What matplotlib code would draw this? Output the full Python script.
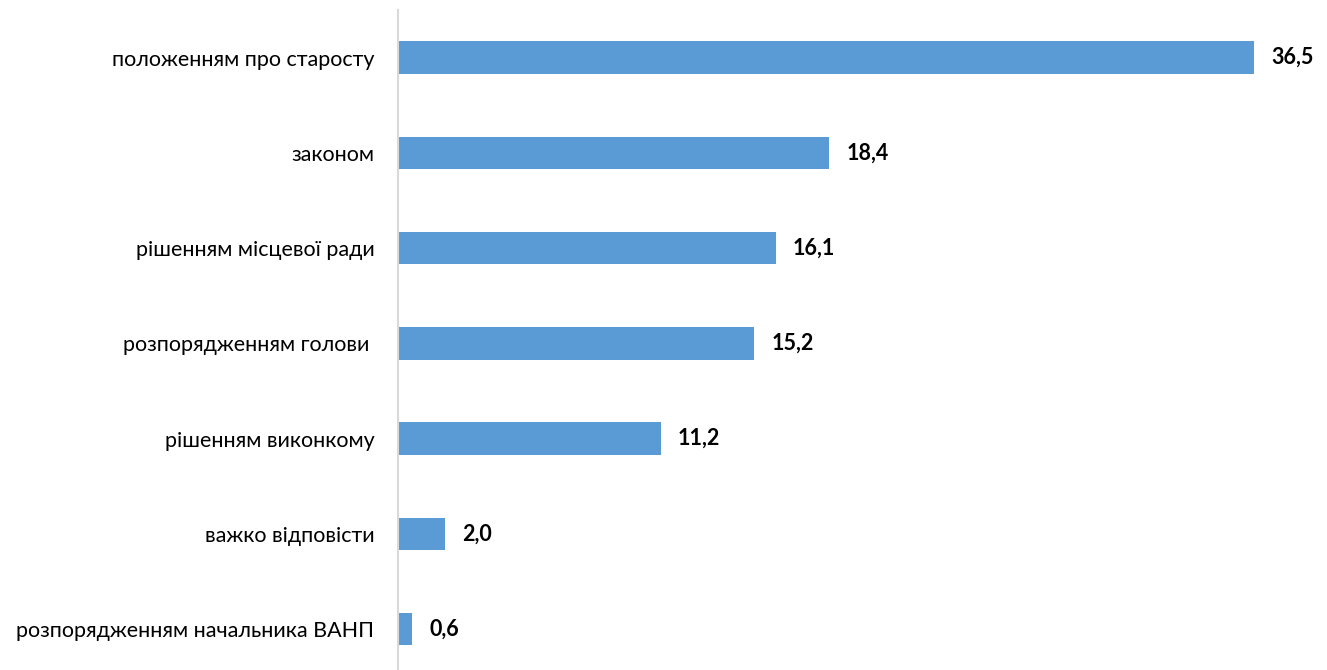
import matplotlib
matplotlib.use("Agg")
import matplotlib.pyplot as plt

categories = [
    "положенням про старосту",
    "законом",
    "рішенням місцевої ради",
    "розпорядженням голови ",
    "рішенням виконкому",
    "важко відповісти",
    "розпорядженням начальника ВАНП",
]
values = [36.5, 18.4, 16.1, 15.2, 11.2, 2.0, 0.6]

plt.rcParams['font.family'] = ['Lato', 'DejaVu Sans']

fig = plt.figure(figsize=(13.27, 6.70), dpi=100)
ax = fig.add_axes([398 / 1327, 0.0, 929 / 1327, 660 / 670])

pos = list(range(len(categories)))
ax.barh(pos, values, height=0.34, color='#5B9BD5')

for p, v in zip(pos, values):
    ax.annotate('{:.1f}'.format(v).replace('.', ','), xy=(v, p), xytext=(17, 0),
                textcoords='offset pixels',
                va='center', ha='left', fontsize=15.5, fontweight='bold', color='black')

ax.set_xlim(0, 929 / 23.45)
ax.set_ylim(6.43, -0.5)
ax.set_yticks(pos)
ax.set_yticklabels(categories, fontsize=15.5)
ax.tick_params(axis='y', length=0, pad=17)
ax.set_xticks([])
for s in ['top', 'right', 'bottom']:
    ax.spines[s].set_visible(False)
ax.spines['left'].set_color('#D9D9D9')
ax.spines['left'].set_linewidth(1.5)

fig.savefig('out.png', dpi=100)
